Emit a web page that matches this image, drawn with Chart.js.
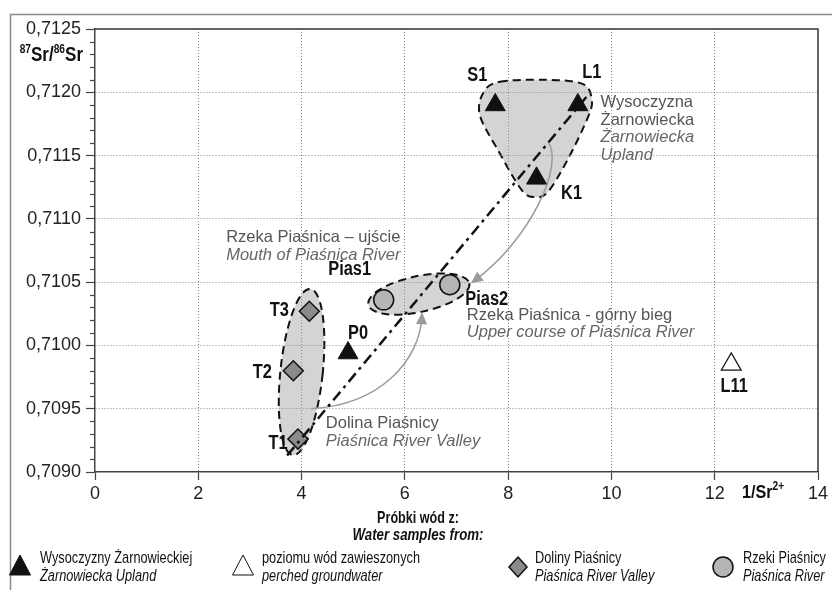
<!DOCTYPE html>
<html>
<head>
<meta charset="UTF-8">
<title>87Sr/86Sr vs 1/Sr</title>
<script src="https://cdn.jsdelivr.net/npm/chart.js"></script>
<style>
  html, body { margin: 0; padding: 0; background: #fff; }
</style>
</head>
<body>
<canvas id="srChart" width="832" height="590"></canvas>
<script>
// ---- dane / data ----
const uplandNames = ['S1', 'L1', 'K1', 'P0'];
const uplandX = [7.75, 9.35, 8.55, 4.90];
const uplandY = [0.71190, 0.71190, 0.71132, 0.70994];

const perchedNames = ['L11'];
const perchedX = [12.32];
const perchedY = [0.70985];

const valleyNames = ['T1', 'T2', 'T3'];
const valleyX = [3.93, 3.84, 4.15];
const valleyY = [0.70926, 0.70980, 0.71027];

const riverNames = ['Pias1', 'Pias2'];
const riverX = [5.59, 6.87];
const riverY = [0.71036, 0.71048];

// linia mieszania (dash-dot)
const mixX = [3.72, 9.55];
const mixY = [0.70913, 0.71198];

// obrys grupy Wysoczyzny (w jednostkach danych)
const uplandHullX = [7.84, 8.71, 9.44, 9.62, 9.54, 9.15, 8.77, 8.52, 8.26, 7.80, 7.45, 7.53];
const uplandHullY = [0.712083, 0.712099, 0.712067, 0.711941, 0.711798, 0.711466, 0.711213, 0.711173, 0.711229, 0.711545, 0.711822, 0.712004];

const xTickValues = [0, 2, 4, 6, 8, 10, 12, 14];
const yMin = 0.7090, yMax = 0.7125;

const SANS = "'Liberation Sans', Arial, sans-serif";

function pts(xs, ys) { return xs.map((v, i) => ({x: v, y: ys[i]})); }

// etykiety punktow - przesuniecie w px
const labelOffsets = {
  S1: [-18, -29], L1: [14, -32], K1: [35, 15], P0: [10, -20], L11: [3, 22],
  T1: [-20, 4], T2: [-31, 2], T3: [-30, -1], Pias1: [-34, -30], Pias2: [37, 15]
};

// opisy (pozycja w jednostkach danych)
const notes = [
  {x: 9.79, y: 0.71192, lines: [['Wysoczyzna', false], ['Żarnowiecka', false], ['Żarnowiecka', true], ['Upland', true]]},
  {x: 2.54, y: 0.71085, lines: [['Rzeka Piaśnica – ujście', false], ['Mouth of Piaśnica River', true]]},
  {x: 7.20, y: 0.71024, lines: [['Rzeka Piaśnica - górny bieg', false], ['Upper course of Piaśnica River', true]]},
  {x: 4.47, y: 0.70938, lines: [['Dolina Piaśnicy', false], ['Piaśnica River Valley', true]]}
];

// strzalki (bezier w jednostkach danych)
const arrows = [
  [[8.77, 0.71161], [9.10, 0.71143], [8.42, 0.71083], [7.34, 0.71051]],
  [[4.18, 0.70950], [5.52, 0.70953], [6.29, 0.70988], [6.33, 0.71023]]
];

function closedSpline(ctx, p) {
  const n = p.length;
  ctx.moveTo(p[0][0], p[0][1]);
  for (let i = 0; i < n; i++) {
    const p0 = p[(i - 1 + n) % n], p1 = p[i], p2 = p[(i + 1) % n], p3 = p[(i + 2) % n];
    ctx.bezierCurveTo(p1[0] + (p2[0] - p0[0]) / 6, p1[1] + (p2[1] - p0[1]) / 6,
                      p2[0] - (p3[0] - p1[0]) / 6, p2[1] - (p3[1] - p1[1]) / 6, p2[0], p2[1]);
  }
  ctx.closePath();
}

function blobStyle(ctx) {
  ctx.fillStyle = '#d4d4d4';
  ctx.fill();
  ctx.setLineDash([8, 5]);
  ctx.lineWidth = 2;
  ctx.strokeStyle = '#111';
  ctx.stroke();
  ctx.setLineDash([]);
}

function ellipseBlob(ctx, x, y, cx, cy, rx, ry, rotDeg) {
  const px = x.getPixelForValue(cx), py = y.getPixelForValue(cy);
  const rpx = Math.abs(x.getPixelForValue(cx + rx) - px);
  const rpy = Math.abs(y.getPixelForValue(cy + ry) - py);
  ctx.beginPath();
  ctx.ellipse(px, py, rpx, rpy, rotDeg * Math.PI / 180, 0, Math.PI * 2);
  blobStyle(ctx);
}

// waski tekst (Helvetica Condensed) - skalowanie poziome
function cText(ctx, text, x, y, font, sx, align) {
  ctx.save();
  ctx.font = font;
  ctx.translate(x, y);
  ctx.scale(sx, 1);
  ctx.textAlign = align || 'left';
  ctx.fillText(text, 0, 0);
  ctx.restore();
}

// tekst z indeksami gornymi
function richText(ctx, parts, x, y, align, sx) {
  let w = 0;
  parts.forEach(p => { ctx.font = p.f; w += ctx.measureText(p.t).width * sx; });
  let cx = align === 'right' ? x - w : (align === 'center' ? x - w / 2 : x);
  parts.forEach(p => {
    cText(ctx, p.t, cx, y + (p.dy || 0), p.f, sx, 'left');
    ctx.font = p.f;
    cx += ctx.measureText(p.t).width * sx;
  });
}

function marker(ctx, type, x, y) {
  ctx.beginPath();
  if (type === 'tri' || type === 'triOpen') {
    ctx.moveTo(x, y - 12); ctx.lineTo(x + 10.5, y + 8); ctx.lineTo(x - 10.5, y + 8); ctx.closePath();
    ctx.fillStyle = type === 'tri' ? '#111' : '#fff';
    ctx.fill(); ctx.strokeStyle = '#111'; ctx.lineWidth = 1; ctx.stroke();
  } else if (type === 'diamond') {
    ctx.moveTo(x, y - 10); ctx.lineTo(x + 9, y); ctx.lineTo(x, y + 10); ctx.lineTo(x - 9, y); ctx.closePath();
    ctx.fillStyle = '#8a8a8a'; ctx.fill(); ctx.strokeStyle = '#111'; ctx.lineWidth = 1.5; ctx.stroke();
  } else {
    ctx.arc(x, y, 10, 0, Math.PI * 2);
    ctx.fillStyle = '#b5b5b5'; ctx.fill(); ctx.strokeStyle = '#111'; ctx.lineWidth = 1.5; ctx.stroke();
  }
}

const decor = {
  id: 'decor',
  beforeDraw(chart) {
    const {ctx, scales: {x, y}} = chart;
    ctx.save();
    // ramka rysunku
    ctx.strokeStyle = '#8a8a8a';
    ctx.lineWidth = 1.5;
    ctx.beginPath();
    ctx.moveTo(10.5, 590); ctx.lineTo(10.5, 14.5); ctx.lineTo(832, 14.5);
    ctx.stroke();
    // grupy
    ctx.beginPath();
    closedSpline(ctx, uplandHullX.map((v, i) => [x.getPixelForValue(v), y.getPixelForValue(uplandHullY[i])]));
    blobStyle(ctx);
    ellipseBlob(ctx, x, y, 4.0, 0.70979, 0.41, 0.00066, 6);
    ellipseBlob(ctx, x, y, 6.27, 0.710406, 1.0, 0.000142, -12);
    ctx.restore();
  },
  beforeDatasetsDraw(chart) {
    const {ctx, chartArea: a, scales: {x, y}} = chart;
    ctx.save();
    // gorna i prawa krawedz
    ctx.strokeStyle = '#333';
    ctx.lineWidth = 1.5;
    ctx.beginPath();
    ctx.moveTo(a.left, a.top); ctx.lineTo(a.right, a.top); ctx.lineTo(a.right, a.bottom);
    ctx.stroke();
    // strzalki
    arrows.forEach(ar => {
      const p = ar.map(q => [x.getPixelForValue(q[0]), y.getPixelForValue(q[1])]);
      ctx.strokeStyle = '#9a9a9a';
      ctx.lineWidth = 1.5;
      ctx.beginPath();
      ctx.moveTo(p[0][0], p[0][1]);
      ctx.bezierCurveTo(p[1][0], p[1][1], p[2][0], p[2][1], p[3][0], p[3][1]);
      ctx.stroke();
      const ang = Math.atan2(p[3][1] - p[2][1], p[3][0] - p[2][0]);
      const tx = p[3][0] + Math.cos(ang) * 4, ty = p[3][1] + Math.sin(ang) * 4;
      ctx.fillStyle = '#9a9a9a';
      ctx.beginPath();
      ctx.moveTo(tx, ty);
      ctx.lineTo(tx - Math.cos(ang) * 12 - Math.sin(ang) * 5.5, ty - Math.sin(ang) * 12 + Math.cos(ang) * 5.5);
      ctx.lineTo(tx - Math.cos(ang) * 12 + Math.sin(ang) * 5.5, ty - Math.sin(ang) * 12 - Math.cos(ang) * 5.5);
      ctx.closePath();
      ctx.fill();
    });
    ctx.restore();
  },
  afterDatasetsDraw(chart) {
    const {ctx, scales: {x, y}} = chart;
    ctx.save();
    // etykiety punktow
    ctx.fillStyle = '#111';
    ctx.textBaseline = 'middle';
    chart.data.datasets.forEach((ds, di) => {
      if (!ds.names) return;
      const meta = chart.getDatasetMeta(di);
      meta.data.forEach((el, i) => {
        const o = labelOffsets[ds.names[i]] || [0, -20];
        cText(ctx, ds.names[i], el.x + o[0], el.y + o[1], 'bold 20px ' + SANS, 0.82, 'center');
      });
    });
    // opisy
    ctx.textAlign = 'left';
    notes.forEach(n => {
      const px = x.getPixelForValue(n.x), py = y.getPixelForValue(n.y);
      n.lines.forEach((l, i) => {
        ctx.font = (l[1] ? 'italic ' : '') + '16.5px ' + SANS;
        ctx.fillStyle = l[1] ? '#666' : '#555';
        ctx.fillText(l[0], px, py + i * 17.6);
      });
    });
    ctx.restore();
  },
  afterDraw(chart) {
    const {ctx, chartArea: a, scales: {y}} = chart;
    ctx.save();
    // male podzialki osi Y
    ctx.strokeStyle = '#444';
    ctx.lineWidth = 1.2;
    y.ticks.forEach((t, i) => {
      if (i % 5 === 0) return;
      const py = Math.round(y.getPixelForValue(t.value)) + 0.5;
      ctx.beginPath(); ctx.moveTo(a.left - 5, py); ctx.lineTo(a.left, py); ctx.stroke();
    });
    ctx.fillStyle = '#111';
    ctx.textBaseline = 'alphabetic';
    // tytul osi Y
    const b = 'bold 20px ' + SANS, s = 'bold 12px ' + SANS;
    richText(ctx, [{t: '87', f: s, dy: -8}, {t: 'Sr/', f: b}, {t: '86', f: s, dy: -8}, {t: 'Sr', f: b}], 83, 61, 'right', 0.85);
    // tytul osi X
    richText(ctx, [{t: '1/Sr', f: 'bold 19px ' + SANS}, {t: '2+', f: 'bold 12px ' + SANS, dy: -8}], 742, 498, 'left', 0.85);
    // legenda
    cText(ctx, 'Próbki wód z:', 418, 523, 'bold 17px ' + SANS, 0.74, 'center');
    cText(ctx, 'Water samples from:', 418, 540, 'italic bold 17px ' + SANS, 0.78, 'center');
    const items = [
      ['tri', 20, 40, 'Wysoczyzny Żarnowieckiej', 'Żarnowiecka Upland'],
      ['triOpen', 243, 262, 'poziomu wód zawieszonych', 'perched groundwater'],
      ['diamond', 518, 535, 'Doliny Piaśnicy', 'Piaśnica River Valley'],
      ['circle', 723, 743, 'Rzeki Piaśnicy', 'Piaśnica River']
    ];
    items.forEach(it => {
      marker(ctx, it[0], it[1], 567);
      ctx.fillStyle = '#111';
      cText(ctx, it[3], it[2], 563, '17px ' + SANS, 0.75, 'left');
      cText(ctx, it[4], it[2], 581, 'italic 17px ' + SANS, 0.75, 'left');
    });
    ctx.restore();
  }
};

const ctx = document.getElementById('srChart').getContext('2d');
new Chart(ctx, {
  type: 'scatter',
  data: {
    datasets: [
      {
        type: 'line',
        data: pts(mixX, mixY),
        borderColor: '#111',
        borderWidth: 2.5,
        borderDash: [11, 5, 3, 5],
        pointRadius: 0,
        fill: false
      },
      {
        names: uplandNames,
        data: pts(uplandX, uplandY),
        pointStyle: 'triangle',
        pointRadius: 11.5,
        backgroundColor: '#111',
        borderColor: '#111',
        borderWidth: 1
      },
      {
        names: perchedNames,
        data: pts(perchedX, perchedY),
        pointStyle: 'triangle',
        pointRadius: 11.5,
        backgroundColor: '#fff',
        borderColor: '#111',
        borderWidth: 1.2
      },
      {
        names: valleyNames,
        data: pts(valleyX, valleyY),
        pointStyle: 'rectRot',
        pointRadius: 10,
        backgroundColor: '#8a8a8a',
        borderColor: '#111',
        borderWidth: 1.5
      },
      {
        names: riverNames,
        data: pts(riverX, riverY),
        pointStyle: 'circle',
        pointRadius: 10,
        backgroundColor: '#b5b5b5',
        borderColor: '#111',
        borderWidth: 1.5
      }
    ]
  },
  options: {
    responsive: false,
    animation: false,
    layout: { padding: { left: 0, top: 29, right: 14, bottom: 0 } },
    plugins: { legend: { display: false }, tooltip: { enabled: false } },
    scales: {
      x: {
        type: 'linear',
        min: 0,
        max: 14,
        afterBuildTicks: s => { s.ticks = xTickValues.map(v => ({value: v})); },
        afterFit: s => { s.height = 118; },
        ticks: { font: { family: SANS, size: 18 }, color: '#222', padding: 3, maxRotation: 0 },
        grid: {
          color: c => (c.tick && c.tick.value > 0 && c.tick.value < 14) ? '#8a8a8a' : 'rgba(0,0,0,0)',
          lineWidth: 1,
          tickLength: 8,
          tickColor: '#444',
          tickWidth: 1.2
        },
        border: { color: '#444', width: 1.5, dash: [1, 2] }
      },
      y: {
        type: 'linear',
        min: yMin,
        max: yMax,
        afterBuildTicks: s => {
          const t = [];
          for (let i = 0; i <= 35; i++) t.push({value: +(yMin + i * 0.0001).toFixed(4)});
          s.ticks = t;
        },
        afterFit: s => { s.width = 95; },
        ticks: {
          font: { family: SANS, size: 18 },
          color: '#222',
          padding: 5,
          autoSkip: false,
          callback: (v, i) => (i % 5 === 0 ? v.toFixed(4).replace('.', ',') : '')
        },
        grid: {
          color: c => (c.tick && c.index % 5 === 0 && c.index > 0 && c.index < 35) ? '#8a8a8a' : 'rgba(0,0,0,0)',
          lineWidth: 1,
          tickLength: 9,
          tickColor: c => (c.index % 5 === 0 ? '#444' : 'rgba(0,0,0,0)'),
          tickWidth: 1.2
        },
        border: { color: '#444', width: 1.5, dash: [1, 2] }
      }
    }
  },
  plugins: [decor]
});
</script>
</body>
</html>
